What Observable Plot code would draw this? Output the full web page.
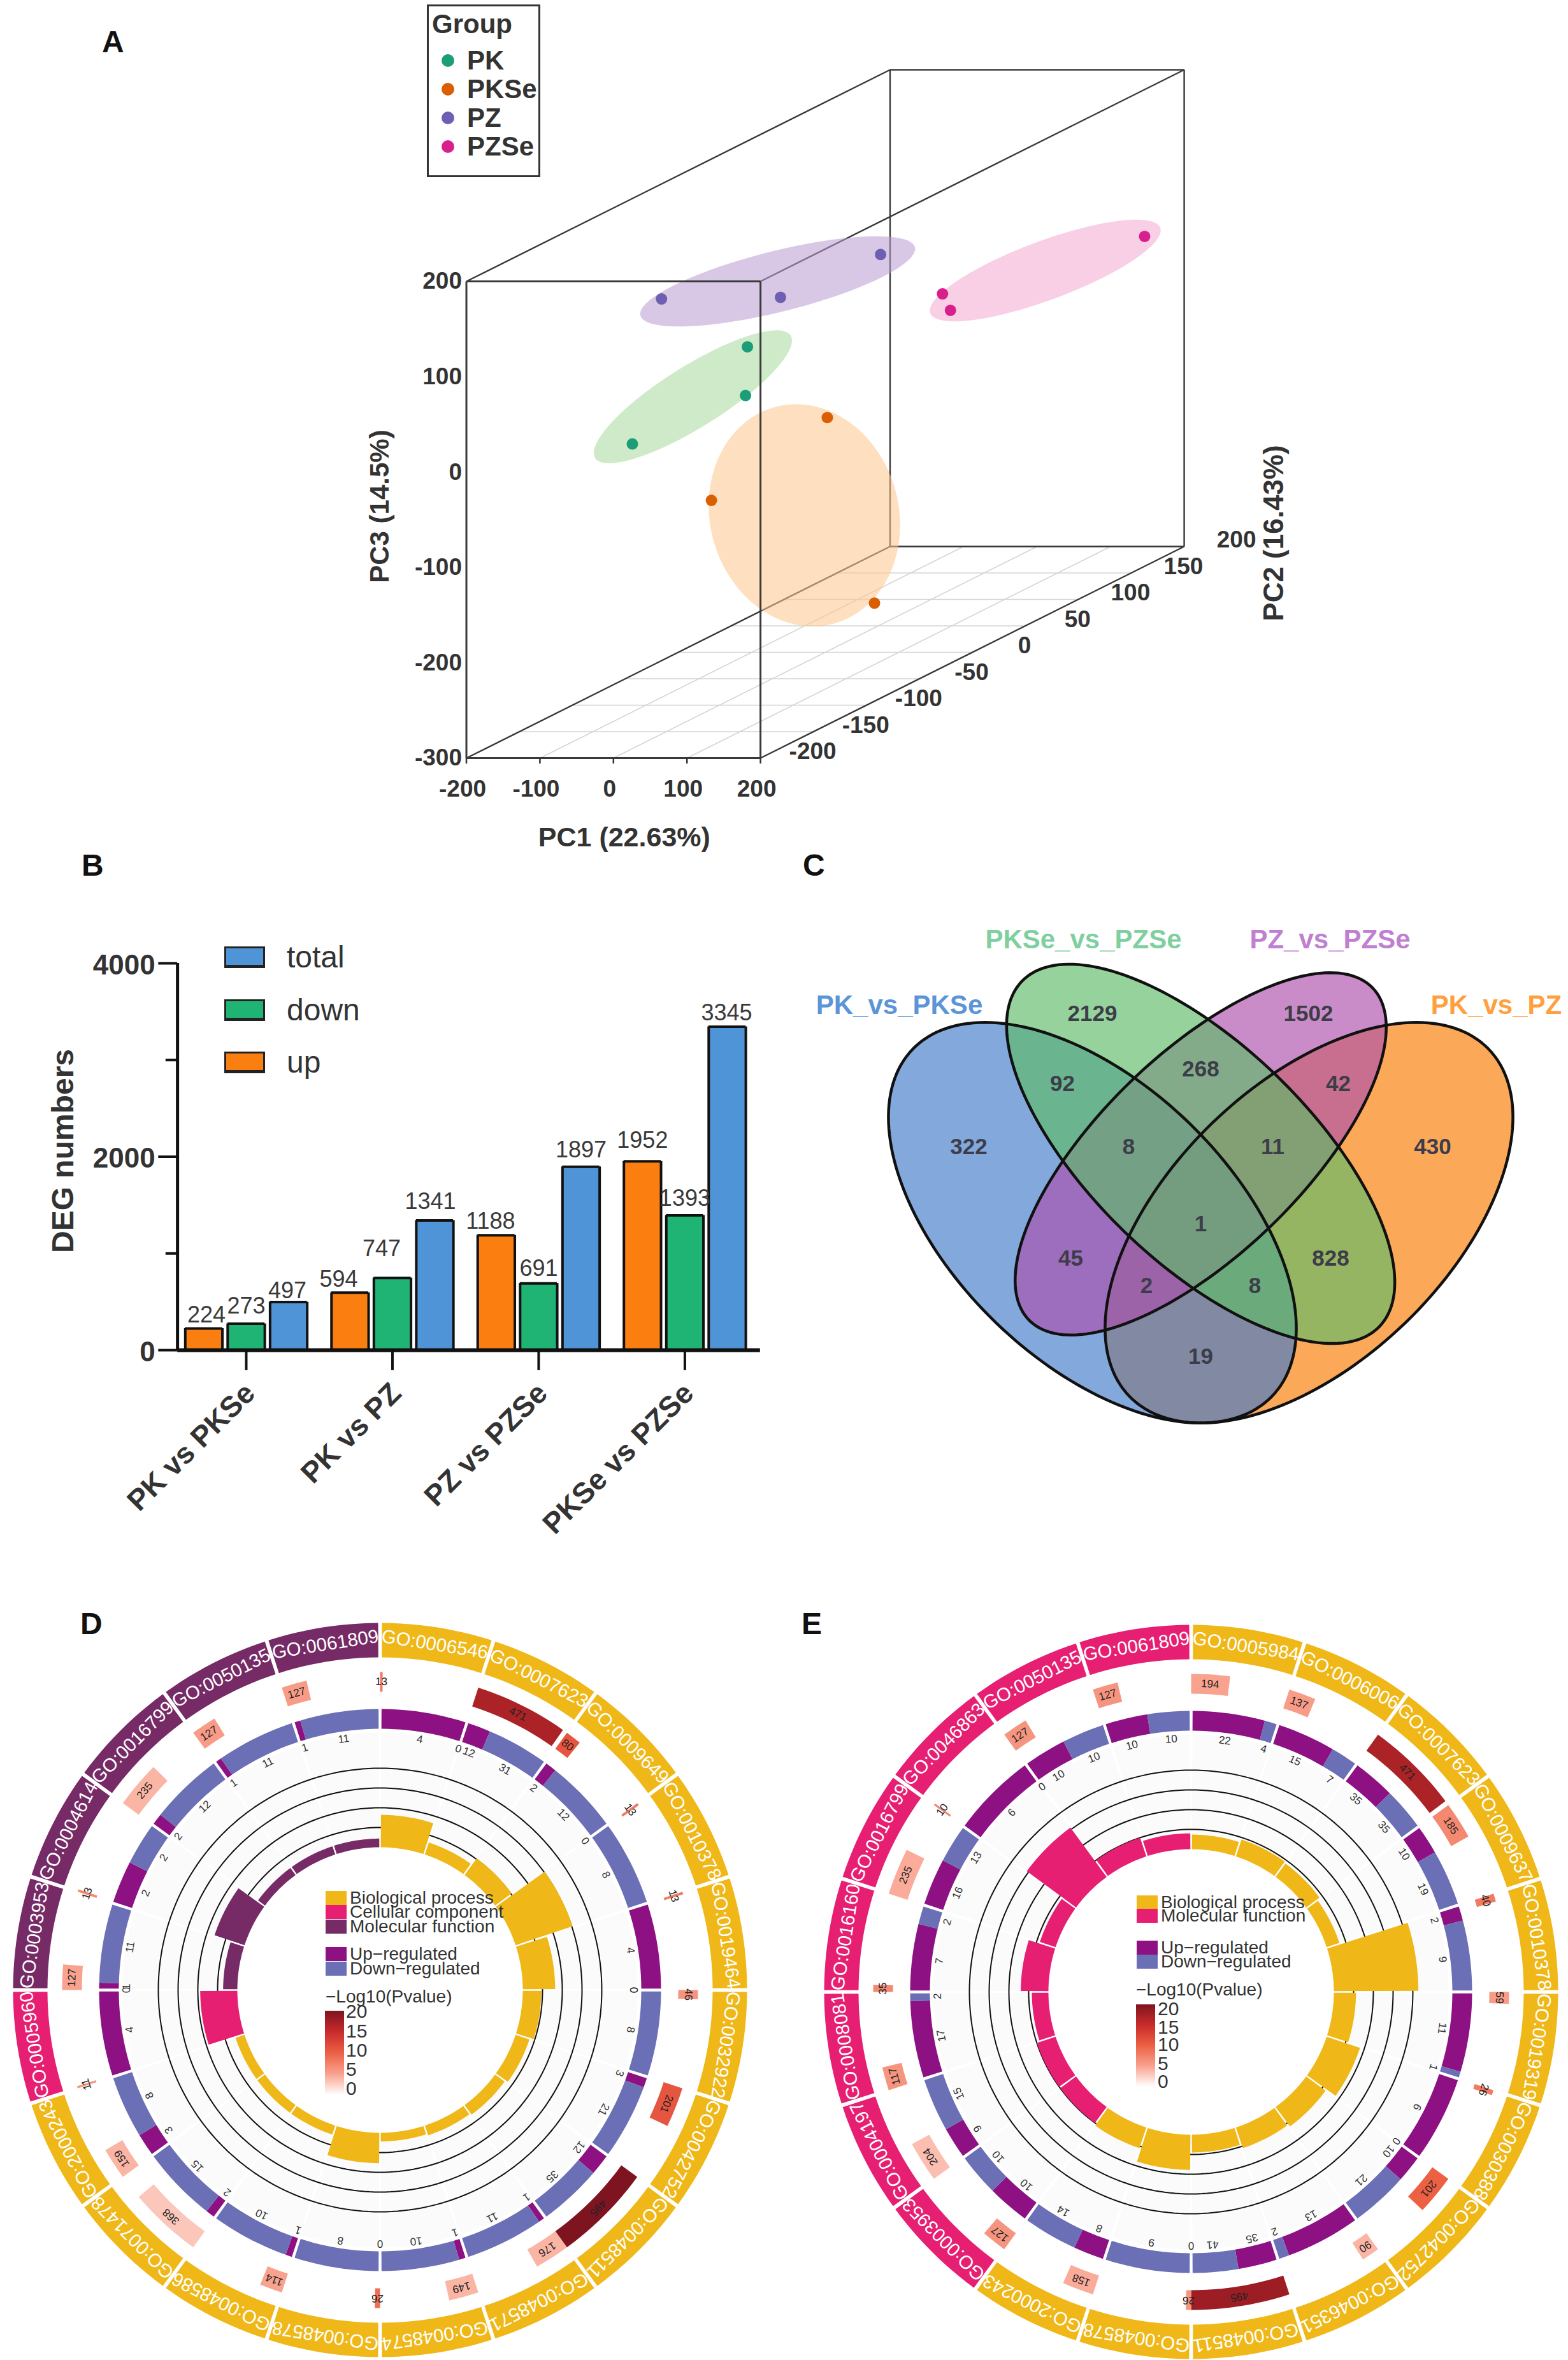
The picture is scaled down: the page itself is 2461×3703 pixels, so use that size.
<!DOCTYPE html>
<html><head><meta charset="utf-8">
<script src="https://cdn.jsdelivr.net/npm/d3@7"></script>
<script src="https://cdn.jsdelivr.net/npm/@observablehq/plot@0.6"></script>
<style>
html,body{margin:0;background:#fff}
#page{position:relative;width:2461px;height:3703px;overflow:hidden;font-family:"Liberation Sans",Arial,sans-serif}
#page svg{position:absolute;background:transparent}
.t{position:absolute;white-space:nowrap;line-height:1;transform:translateY(-50%)}
.b{position:absolute}
</style></head><body><div id="page"></div>
<script>
/* ---------- panel A: PCA ---------- */
const pcaGroupNames = ["PK","PKSe","PZ","PZSe"];
const pcaColors = ["#1b9e77","#d95f02","#6f5fb3","#d91f8c"];
const ellipseColors = ["#a8d89a","#fdc48a","#b89ad0","#f2a8d0"];
const pcaGroup = ["PK","PK","PK","PKSe","PKSe","PKSe","PZ","PZ","PZ","PZSe","PZSe","PZSe"];
const pc1 = [67,78.8,-60.7,89.2,32.4,124.5,-78.7,25.5,89.6,73,83.8,189.4];
const pc2 = [-120,-130,-140,-60,-130,-40,-100,-60,-10,60,60,170];
const pc3 = [87,41.5,-3.8,-20.5,-68.5,-226.2,126.1,105.6,122.8,42.7,25.4,41.9];
const ellipseCentreU = [108,259.7,223.3,587.3];
const ellipseCentreV = [79,-45.3,200,211.4];
const ellipseMajorU = [133,39.9,186.7,156.4];
const ellipseMajorV = [64.2,-113.6,35.8,44.8];
const ellipseMinorU = [22,123.9,10.1,14];
const ellipseMinorV = [-27.2,25.9,-31,-29];
const pc1Ticks = [-200,-100,0,100,200];
const pc2Ticks = [-200,-150,-100,-50,0,50,100,150,200];
const pc3Ticks = [-300,-200,-100,0,100,200];

/* ---------- panel B: DEG bars ---------- */
const comparisons = ["PK vs PKSe","PK vs PZ","PZ vs PZSe","PKSe vs PZSe"];
const upCounts = [224,594,1188,1952];
const downCounts = [273,747,691,1393];
const totalCounts = [497,1341,1897,3345];
const degSeries = ["up","down","total"];
const degColors = ["#fb7f10","#20b474","#5094d8"];
const degTicks = [0,1000,2000,3000,4000];
const degLabelled = [0,2000,4000];

/* ---------- panel C: Venn ---------- */
const vennNames = ["PK_vs_PZ","PK_vs_PKSe","PZ_vs_PZSe","PKSe_vs_PZSe"];
const vennFill = ["#f97b00","#3f79c9","#ac4eac","#5ebc67"];
const vennText = ["#ffa040","#5b95d8","#c07fd0","#7fcf9f"];
const vennCx = [170,-170,0,0];
const vennCy = [108,108,0,0];
const vennA = [392,392,375,390];
const vennB = [218,218,158,171];
const vennAngle = [-44,44,-44,44];
const vennNameX = [464,-473,203,-184];
const vennNameY = [-233,-233,-336,-336];
const vennValues = [322,2129,1502,430,92,268,42,8,11,1,45,828,2,8,19];
const vennValueX = [-364,-170,169,364,-217,0,216,-113,113,0,-204,204,-85,85,0];
const vennValueY = [-11,-220,-220,-11,-110,-133,-110,-11,-11,110,164,164,207,207,318];

/* ---------- panels D and E: GO circos ---------- */
const goColorsD = {BP:"#efb818",CC:"#e61f72",MF:"#762a66"};
const goColorsE = {BP:"#efb818",MF:"#e61f72"};
const regColors = {up:"#8e1183",down:"#6b6fb5"};
const pRamp = ["#ffffff","#f9a28e","#ec6044","#c92b2b","#7f1421"];
const pDomain = [0,5,10,15,20];
const pLegendTicks = [20,15,10,5,0];

const dIds = ["GO:0006546","GO:0007623","GO:0009649","GO:0010378","GO:0019464","GO:0032922","GO:0042752","GO:0048511","GO:0048571","GO:0048574","GO:0048578","GO:0048586","GO:0071478","GO:2000243","GO:0005960","GO:0003953","GO:0004614","GO:0016799","GO:0050135","GO:0061809"];
const dCats = ["BP","BP","BP","BP","BP","BP","BP","BP","BP","BP","BP","BP","BP","BP","CC","MF","MF","MF","MF","MF"];
const dCounts = [13,471,80,13,13,46,201,495,176,149,26,114,368,159,11,127,13,235,127,127];
const dCountP = [8,17,11,8,8,6,11,20,4,4,9,5,3,4,6,5,7,4,5.5,5.5];
const dUp = [4,12,2,0,4,0,3,12,1,1,0,1,2,3,4,1,2,2,1,1];
const dDown = [0,31,12,8,0,8,21,35,11,10,8,10,15,8,0,11,2,12,11,11];
const dLogP = [8.2,3.2,5.2,15.2,8.2,4.7,3.7,3,2.6,2.2,7.7,2.4,2.4,2.4,9.4,3.6,8,2.2,2.2,2.2];

const eIds = ["GO:0005984","GO:0006006","GO:0007623","GO:0009637","GO:0010378","GO:0019319","GO:0030388","GO:0042752","GO:0046351","GO:0048511","GO:0048578","GO:2000243","GO:0003953","GO:0004197","GO:0008081","GO:0016160","GO:0016799","GO:0046863","GO:0050135","GO:0061809"];
const eCats = ["BP","BP","BP","BP","BP","BP","BP","BP","BP","BP","BP","BP","MF","MF","MF","MF","MF","MF","MF","MF"];
const eCounts = [194,137,471,185,40,59,26,201,90,495,26,158,127,204,117,35,235,10,127,127];
const eCountP = [5,5.5,17,7,8,5.5,8,10,4,18,6,4.5,6,3.5,6,7,4.5,7,6,6];
const eUp = [22,15,35,10,2,11,6,10,13,35,0,8,10,9,17,7,16,6,10,10];
const eDown = [4,7,35,19,9,1,0,21,2,41,9,14,10,15,2,2,13,0,10,10];
const eLogP = [3.7,4.5,4.2,3.4,21.4,5.6,8.9,6.1,5.5,4.5,8.9,5.5,5,5,4.2,7,4.2,15.5,5,4];

/* ---------- helpers ---------- */
const FONT = '"Liberation Sans",Arial,sans-serif';
const page = document.getElementById("page");
function place(svg,left,top){svg.style.left=left+"px";svg.style.top=top+"px";page.appendChild(svg);}
function txt(text,x,y,size,extra=""){const d=document.createElement("div");d.className="t";d.textContent=text;d.style.cssText=`left:${x}px;top:${y}px;font-size:${size}px;${extra}`;page.appendChild(d);}
function box(x,y,w,h,css){const d=document.createElement("div");d.className="b";d.style.cssText=`left:${x}px;top:${y}px;width:${w}px;height:${h}px;${css}`;page.appendChild(d);}

/* ---------- draw A ---------- */
(function(){
  const K1=1.4406,K2=0.5548;
  const u=(a,b)=>a+(b+200)*K1, v=(c,b)=>c+(b+200)*K2;
  const pts=pcaGroup.map((g,i)=>({g,u:u(pc1[i],pc2[i]),v:v(pc3[i],pc2[i]),c:pcaColors[pcaGroupNames.indexOf(g)]}));
  const ell=[];
  pcaGroupNames.forEach((g,i)=>{for(let t=0;t<360;t+=4){const r=t*Math.PI/180;
    ell.push({g,u:ellipseCentreU[i]+ellipseMajorU[i]*Math.cos(r)+ellipseMinorU[i]*Math.sin(r),v:ellipseCentreV[i]+ellipseMajorV[i]*Math.cos(r)+ellipseMinorV[i]*Math.sin(r)});}});
  const seg=(a1,b1,c1,a2,b2,c2)=>({x1:u(a1,b1),y1:v(c1,b1),x2:u(a2,b2),y2:v(c2,b2)});
  const lo1=-200,hi1=200,lo2=-200,hi2=200,lo3=-300,hi3=200;
  const grid=[...pc1Ticks.map(t=>seg(t,lo2,lo3,t,hi2,lo3)),...pc2Ticks.map(t=>seg(lo1,t,lo3,hi1,t,lo3))];
  const back=[seg(lo1,hi2,lo3,hi1,hi2,lo3),seg(lo1,hi2,hi3,hi1,hi2,hi3),seg(lo1,hi2,lo3,lo1,hi2,hi3),seg(hi1,hi2,lo3,hi1,hi2,hi3),seg(lo1,lo2,lo3,lo1,hi2,lo3),seg(hi1,lo2,lo3,hi1,hi2,lo3),seg(lo1,lo2,hi3,lo1,hi2,hi3),seg(hi1,lo2,hi3,hi1,hi2,hi3)];
  const front=[seg(lo1,lo2,lo3,hi1,lo2,lo3),seg(lo1,lo2,hi3,hi1,lo2,hi3),seg(lo1,lo2,lo3,lo1,lo2,hi3),seg(hi1,lo2,lo3,hi1,lo2,hi3)];
  const link=(d,o)=>Plot.link(d,{x1:"x1",y1:"y1",x2:"x2",y2:"y2",...o});
  const tickStyle={fontFamily:FONT,fontWeight:"bold",fontSize:37,fill:"#333"};
  const marks=[
    link(grid,{stroke:"#d4d4d4",strokeWidth:1.6}),
    link(back,{stroke:"#3a3a3a",strokeWidth:2.4}),
    ...pcaGroupNames.map((g,i)=>Plot.line(ell.filter(d=>d.g===g),{x:"u",y:"v",curve:"linear-closed",fill:ellipseColors[i],fillOpacity:0.55,stroke:"none"})),
    link(front,{stroke:"#3a3a3a",strokeWidth:3}),
    Plot.ruleX(pc1Ticks,{x:d=>d,y1:-300,y2:-306,stroke:"#333",strokeWidth:2.5}),
    Plot.dot(pts,{x:"u",y:"v",r:9,fill:"c",stroke:"none"}),
    Plot.text(pc1Ticks,{x:d=>d,y:-300,dx:-6,dy:49,text:d=>String(d),...tickStyle}),
    Plot.text(pc3Ticks,{x:-200,y:d=>d,dx:-7,text:d=>String(d),textAnchor:"end",...tickStyle}),
    Plot.text(pc2Ticks,{x:d=>u(200,d),y:d=>v(-300,d),dx:82,dy:-10,text:d=>String(d),...tickStyle}),
    Plot.text(["PC1 (22.63%)"],{x:0,y:-300,dx:17,dy:125,text:d=>d,...tickStyle,fontSize:43}),
    Plot.text(["PC3 (14.5%)"],{x:-200,y:-36,dx:-135,rotate:-90,text:d=>d,...tickStyle,fontSize:42}),
    Plot.text(["PC2 (16.43%)"],{x:u(200,200),y:v(-300,200),dx:141,dy:-21,rotate:-90,text:d=>d,...tickStyle,fontSize:44})
  ];
  const svg=Plot.plot({width:2461,height:1350,margin:0,x:{axis:null,domain:[-833.9,1298.7],range:[0,2461]},y:{axis:null,domain:[-407.6,494.8],range:[1350,0]},color:{type:"identity"},style:{background:"transparent",overflow:"visible"},marks});
  place(svg,0,0);
  box(670,7,172,265,"border:3px solid #333");
  txt("Group",678,38,42,"font-weight:bold;color:#333");
  pcaGroupNames.forEach((g,i)=>{const y=95+45*i;
    box(693,y-10,20,20,`border-radius:50%;background:${pcaColors[i]}`);
    txt(g,733,y,42,"font-weight:bold;color:#333");});
})();

/* ---------- draw B ---------- */
(function(){
  const axisX=-0.47,endX=3.516,bw=0.127,off=0.29;
  const PX_X=229.5,PX_Y=0.15175;
  /* the reference nudges its value labels by hand: pixels above the bar and sideways */
  const gap=[[21,28,18],[21,46,30],[22,23,26],[33,27,21]];
  const shift=[[4,0,-2],[-18,-17,-7],[-9,0,0],[0,0,-1]];
  const rows=[];
  comparisons.forEach((c,i)=>{[upCounts[i],downCounts[i],totalCounts[i]].forEach((val,j)=>{
    const m=i+(j-1)*off; rows.push({c,s:degSeries[j],val,m,x1:m-bw,x2:m+bw,col:degColors[j],
      lx:m+shift[i][j]/PX_X,ly:val+gap[i][j]/PX_Y});});});
  const edge={stroke:"#111",strokeWidth:4};
  const marks=[
    Plot.rectY(rows,{x1:"x1",x2:"x2",y1:0,y2:"val",fill:"col"}),
    Plot.ruleX(rows,{x:"x1",y1:0,y2:"val",...edge}),
    Plot.ruleX(rows,{x:"x2",y1:0,y2:"val",...edge}),
    Plot.ruleY(rows,{y:"val",x1:"x1",x2:"x2",...edge}),
    Plot.ruleX([axisX],{x:d=>d,y1:0,y2:4000,stroke:"#111",strokeWidth:5}),
    Plot.ruleY([0],{x1:axisX,x2:endX,y:d=>d,stroke:"#111",strokeWidth:6}),
    Plot.ruleY(degTicks,{x1:d=>axisX-(degLabelled.includes(d)?0.13:0.08),x2:axisX,y:d=>d,stroke:"#111",strokeWidth:4}),
    Plot.ruleX(comparisons.map((c,i)=>i),{x:d=>d,y1:0,y2:-210,stroke:"#111",strokeWidth:4}),
    Plot.text(degLabelled,{x:axisX,y:d=>d,dx:-35,dy:3,text:d=>String(d),textAnchor:"end",fontFamily:FONT,fontWeight:"bold",fontSize:44,fill:"#333"}),
    Plot.text(rows,{x:"lx",y:"ly",text:d=>String(d.val),fontFamily:FONT,fontSize:36,fill:"#3a3a3a"}),
    Plot.text(comparisons,{x:(d,i)=>i,y:0,dx:6,dy:60,text:d=>d,rotate:-45,textAnchor:"end",fontFamily:FONT,fontWeight:"bold",fontSize:46,fill:"#333"}),
    Plot.text(["DEG numbers"],{x:axisX,y:2000,dx:-179,dy:-9,rotate:-90,text:d=>d,fontFamily:FONT,fontWeight:"bold",fontSize:48,fill:"#333"})
  ];
  const svg=Plot.plot({width:1230,height:1000,margin:0,x:{axis:null,domain:[-1.682,3.678],range:[0,1230]},y:{axis:null,domain:[0,4000],range:[718,111]},color:{type:"identity"},style:{background:"transparent",overflow:"visible"},marks});
  place(svg,0,1400);
  [["total",2,1502],["down",1,1585],["up",0,1667]].forEach(([n,j,y])=>{
    box(352,y-17,64,34,`background:${degColors[j]};border:3px solid #222;border-bottom-width:5px;box-sizing:border-box`);
    txt(n,450,y,48,"color:#333");});
})();

/* ---------- draw C ---------- */
(function(){
  const rows=[];
  vennNames.forEach((n,i)=>{const th=vennAngle[i]*Math.PI/180;
    for(let t=0;t<360;t+=2){const r=t*Math.PI/180,p=vennA[i]*Math.cos(r),q=vennB[i]*Math.sin(r);
      rows.push({n,x:vennCx[i]+p*Math.cos(th)-q*Math.sin(th),y:vennCy[i]+p*Math.sin(th)+q*Math.cos(th)});}});
  const marks=[
    ...vennNames.map((n,i)=>Plot.line(rows.filter(d=>d.n===n),{x:"x",y:"y",curve:"linear-closed",fill:vennFill[i],fillOpacity:0.65,stroke:"none"})),
    ...vennNames.map(n=>Plot.line(rows.filter(d=>d.n===n),{x:"x",y:"y",curve:"linear-closed",stroke:"#111",strokeWidth:4.5})),
    Plot.text(vennValues,{x:(d,i)=>vennValueX[i],y:(d,i)=>vennValueY[i],text:d=>String(d),fontFamily:FONT,fontWeight:"bold",fontSize:35,fill:"#3d3d4a"}),
    Plot.text(vennNames,{x:(d,i)=>vennNameX[i],y:(d,i)=>vennNameY[i],text:d=>d,fill:(d,i)=>vennText[i],fontFamily:FONT,fontWeight:"bold",fontSize:42})
  ];
  const svg=Plot.plot({width:1231,height:900,margin:0,x:{axis:null,domain:[-654,577],range:[0,1231]},y:{axis:null,domain:[-430,470],range:[0,900]},color:{type:"identity"},style:{background:"transparent",overflow:"visible"},marks});
  place(svg,1230,1380);
})();

/* ---------- draw D / E ---------- */
function circos({left,top,cx,cy,ids,cats,palette,counts,countP,up,down,logP}){
  const W=1231,H=1203;
  const STEP=360/ids.length, MAXC=495;
  const radius=d3.scaleLinear([0,20],[224,348]);
  const polar=(a,r)=>({x:r*Math.sin(a*Math.PI/180),y:r*Math.cos(a*Math.PI/180)});
  const arc=(id,a0,a1,r0,r1,extra={})=>{const out=[],n=Math.max(2,Math.ceil((a1-a0)/1.5));
    for(let k=0;k<=n;k++)out.push({id,...polar(a0+(a1-a0)*k/n,r1),...extra});
    for(let k=n;k>=0;k--)out.push({id,...polar(a0+(a1-a0)*k/n,r0),...extra});
    return out;};
  const fillLine=(rows,fill)=>Plot.line(rows,{x:"x",y:"y",z:"id",curve:"linear-closed",fill,stroke:"none"});
  const G=0.3;
  const faint=[],outer={},inner={},regUp=[],regDown=[],ringP=[],labels=[],countLabels=[],regLabels=[];
  ids.forEach((id,i)=>{
    const a0=i*STEP,a1=a0+STEP,mid=a0+STEP/2,c=cats[i];
    faint.push(...arc("f"+i,a0+G,a1-G,224,404));
    (outer[c]=outer[c]||[]).push(...arc("o"+i,a0+G,a1-G,522,576));
    (inner[c]=inner[c]||[]).push(...arc("b"+i,a0+G,a1-G,224,radius(logP[i])));
    const tot=up[i]+down[i],split=a0+STEP*up[i]/tot;
    if(up[i]>0)regUp.push(...arc("u"+i,a0+G,split-(down[i]>0?0:G),410,441));
    if(down[i]>0)regDown.push(...arc("d"+i,split+(up[i]>0?0:G),a1-G,410,441));
    const cw=STEP*counts[i]/MAXC;
    ringP.push(...arc("p"+i,a0,a0+cw,468,499,{p:countP[i]}));
    labels.push({t:id,rot:mid,...polar(mid,549)});
    countLabels.push({t:counts[i],rot:a0+cw/2,...polar(a0+cw/2,484)});
    const am=(a0+split)/2,ad=(split+a1)/2;
    regLabels.push({t:up[i],rot:am,...polar(am,398)});
    regLabels.push({t:down[i],rot:ad,...polar(ad,398)});
  });
  const circles=[];
  [5,10,15,20].forEach(v=>{for(let a=0;a<360;a+=1.5)circles.push({v,...polar(a,radius(v))});});
  const marks=[
    fillLine(faint,"#fbfbfb"),
    Plot.line(circles,{x:"x",y:"y",z:"v",curve:"linear-closed",stroke:"#111",strokeWidth:2}),
    ...Object.keys(inner).map(c=>fillLine(inner[c],palette[c])),
    fillLine(regUp,regColors.up),
    fillLine(regDown,regColors.down),
    Plot.line(ringP,{x:"x",y:"y",z:"id",curve:"linear-closed",fill:"p",stroke:"none"}),
    ...Object.keys(outer).map(c=>fillLine(outer[c],palette[c])),
    Plot.text(labels,{x:"x",y:"y",text:"t",rotate:"rot",fill:"white",fontFamily:FONT,fontSize:29.5}),
    Plot.text(countLabels,{x:"x",y:"y",text:d=>String(d.t),rotate:"rot",fill:"#222",fontFamily:FONT,fontSize:17}),
    Plot.text(regLabels,{x:"x",y:"y",text:d=>String(d.t),rotate:"rot",fill:"#333",fontFamily:FONT,fontSize:17})
  ];
  const svg=Plot.plot({width:W,height:H,margin:0,
    x:{axis:null,domain:[left-cx,left-cx+W],range:[0,W]},
    y:{axis:null,domain:[cy-top-H,cy-top],range:[H,0]},
    color:{type:"linear",domain:pDomain,range:pRamp},
    style:{background:"transparent",overflow:"visible"},marks});
  place(svg,left,top);
}
function circosLegend(sx,tx,catItems,catY,regY,titleX,titleY,gx,gy,gh,lx,tickY){
  catItems.forEach(([name,col],i)=>{box(sx,catY[i]-11,33,22,`background:${col}`);txt(name,tx,catY[i],28,"color:#333");});
  [["Up\u2212regulated",regColors.up],["Down\u2212regulated",regColors.down]].forEach(([name,col],i)=>{box(sx,regY[i]-11,33,22,`background:${col}`);txt(name,tx,regY[i],28,"color:#333");});
  txt("\u2212Log10(Pvalue)",titleX,titleY,28,"color:#333");
  box(gx,gy,30,gh,`background:linear-gradient(to top,${pRamp.join(",")})`);
  pLegendTicks.forEach((t,i)=>txt(String(t),lx,tickY[i],30,"color:#333"));
}
circos({left:0,top:2500,cx:596,cy:3122,ids:dIds,cats:dCats,palette:goColorsD,counts:dCounts,countP:dCountP,up:dUp,down:dDown,logP:dLogP});
circos({left:1230,top:2500,cx:1869,cy:3125,ids:eIds,cats:eCats,palette:goColorsE,counts:eCounts,countP:eCountP,up:eUp,down:eDown,logP:eLogP});
circosLegend(511,549,[["Biological process",goColorsD.BP],["Cellular component",goColorsD.CC],["Molecular function",goColorsD.MF]],[2978,3000,3023],[3066,3089],511,3133,510,3155,132,543,[3156,3187,3217,3247,3277]);
circosLegend(1784,1822,[["Biological process",goColorsE.BP],["Molecular function",goColorsE.MF]],[2985,3006],[3056,3078],1783,3122,1783,3145,129,1817,[3152,3181,3208,3238,3266]);

/* ---------- panel letters ---------- */
[["A",160,66],["B",128,1358],["C",1260,1358],["D",126,2548],["E",1258,2548]].forEach(([l,x,y])=>txt(l,x,y,48,"font-weight:bold;color:#111"));
</script></body></html>
